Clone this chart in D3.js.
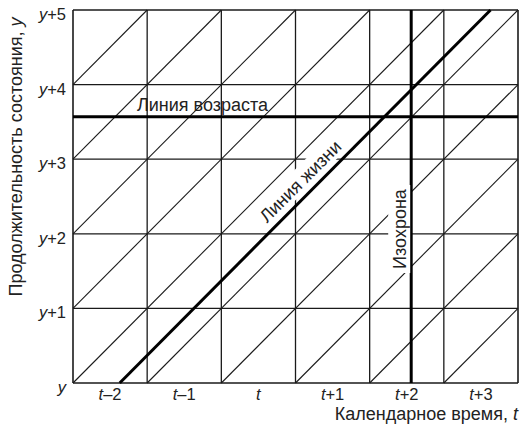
<!DOCTYPE html>
<html><head><meta charset="utf-8">
<script src="https://cdn.jsdelivr.net/npm/d3@7"></script>
<style>
html,body{margin:0;padding:0;background:#fff;}
svg{display:block;font-family:"Liberation Sans",Arial,sans-serif;}
</style></head>
<body>
<svg id="c" width="524" height="425"></svg>
<script>
// Calendar periods (columns) and tick labels
const periodLabels = [["t","–2"],["t","–1"],["t",""],["t","+1"],["t","+2"],["t","+3"]];
const ageLabels = [["y",""],["y","+1"],["y","+2"],["y","+3"],["y","+4"],["y","+5"]];
const periodBreaks = [0,1,2,3,4,5,6];
const ageBreaks = [0,1,2,3,4,5];
// Diagonal cohort lines: time - age = c
const cohortOffsets = [-4,-3,-2,-1,0,1,2,3,4,5];
// Highlighted lines
const lifelineOffset = [0.63];   // time - age for "Линия жизни"
const ageLineValue = [3.57];     // "Линия возраста"
const isochroneValue = [4.56];   // "Изохрона"

const svg = d3.select("#c");
const x = d3.scaleLinear().domain([0,6]).range([73,518]);
const y = d3.scaleLinear().domain([0,5]).range([383,10]);
const ink = "#1a1a1a";

function seg(c){
  const x0 = Math.max(0,c), x1 = Math.min(6,5+c);
  return [x0, x0-c, x1, x1-c];
}

const g = svg.append("g");
// diagonals
g.selectAll("line.diag").data(cohortOffsets).join("line")
  .attr("x1",c=>x(seg(c)[0])).attr("y1",c=>y(seg(c)[1]))
  .attr("x2",c=>x(seg(c)[2])).attr("y2",c=>y(seg(c)[3]))
  .attr("stroke",ink).attr("stroke-width",1.1);
// vertical grid
g.selectAll("line.v").data(periodBreaks).join("line")
  .attr("x1",d=>x(d)).attr("x2",d=>x(d)).attr("y1",y(0)).attr("y2",y(5))
  .attr("stroke",ink).attr("stroke-width",d=>(d===0||d===6)?1.6:1.3);
// horizontal grid
g.selectAll("line.h").data(ageBreaks).join("line")
  .attr("y1",d=>y(d)).attr("y2",d=>y(d)).attr("x1",x(0)).attr("x2",x(6))
  .attr("stroke",ink).attr("stroke-width",d=>(d===0||d===5)?1.6:1.3);

// thick lines
g.selectAll("line.life").data(lifelineOffset).join("line")
  .attr("x1",c=>x(c)).attr("y1",y(0)).attr("x2",c=>x(c+5)).attr("y2",y(5))
  .attr("stroke","#000").attr("stroke-width",3);
g.selectAll("line.age").data(ageLineValue).join("line")
  .attr("x1",x(0)).attr("x2",x(6)).attr("y1",d=>y(d)).attr("y2",d=>y(d))
  .attr("stroke","#000").attr("stroke-width",3);
g.selectAll("line.iso").data(isochroneValue).join("line")
  .attr("x1",d=>x(d)).attr("x2",d=>x(d)).attr("y1",y(0)).attr("y2",y(5))
  .attr("stroke","#000").attr("stroke-width",3);

const txt = "#222";
// Line labels
svg.append("text").attr("x",x(0)+64).attr("y",y(ageLineValue[0])-6)
  .attr("font-size",18).attr("fill",txt).text("Линия возраста");

// lifeline label with white background
{
  const c = lifelineOffset[0];
  const ay = 2.69, ax = ay + c;
  const px = x(ax), py = y(ay);
  const lg = svg.append("g").attr("transform",`translate(${px-19},${py-1}) rotate(-45)`);
  lg.append("rect").attr("x",-60).attr("y",-12).attr("width",120).attr("height",22).attr("fill","#fff");
  lg.append("text").attr("text-anchor","middle").attr("dy","0.35em")
    .attr("font-size",18).attr("fill",txt).text("Линия жизни");
}
// isochrone label
{
  const px = x(isochroneValue[0]) - 12, py = 229;
  const lg = svg.append("g").attr("transform",`translate(${px},${py}) rotate(-90)`);
  lg.append("rect").attr("x",-44).attr("y",-11).attr("width",88).attr("height",22).attr("fill","#fff");
  lg.append("text").attr("text-anchor","middle").attr("dy","0.35em")
    .attr("font-size",18).attr("fill",txt).text("Изохрона");
}

// tick labels
svg.selectAll("text.xt").data(periodLabels).join("text")
  .attr("class","xt")
  .attr("x",(d,i)=>x(i+0.5)).attr("y",400).attr("text-anchor","middle")
  .attr("font-size",16.5).attr("fill",txt)
  .each(function(d){
    const t=d3.select(this);
    t.append("tspan").attr("font-style","italic").text(d[0]);
    t.append("tspan").text(d[1]);
  });
svg.selectAll("text.yt").data(ageLabels).join("text")
  .attr("class","yt")
  .attr("x",66).attr("y",(d,i)=>y(i)+10).attr("text-anchor","end")
  .attr("font-size",16.5).attr("fill",txt)
  .each(function(d){
    const t=d3.select(this);
    t.append("tspan").attr("font-style","italic").text(d[0]);
    t.append("tspan").text(d[1]);
  });

// axis titles
{
  const t = svg.append("text").attr("x",518).attr("y",420).attr("text-anchor","end")
    .attr("font-size",18).attr("fill",txt);
  t.append("tspan").text("Календарное время, ");
  t.append("tspan").attr("font-style","italic").text("t");
}
{
  const t = svg.append("text").attr("transform","translate(22,157) rotate(-90)")
    .attr("text-anchor","middle").attr("font-size",18).attr("fill",txt);
  t.append("tspan").text("Продолжительность состояния, ");
  t.append("tspan").attr("font-style","italic").text("y");
}
</script>
</body></html>
